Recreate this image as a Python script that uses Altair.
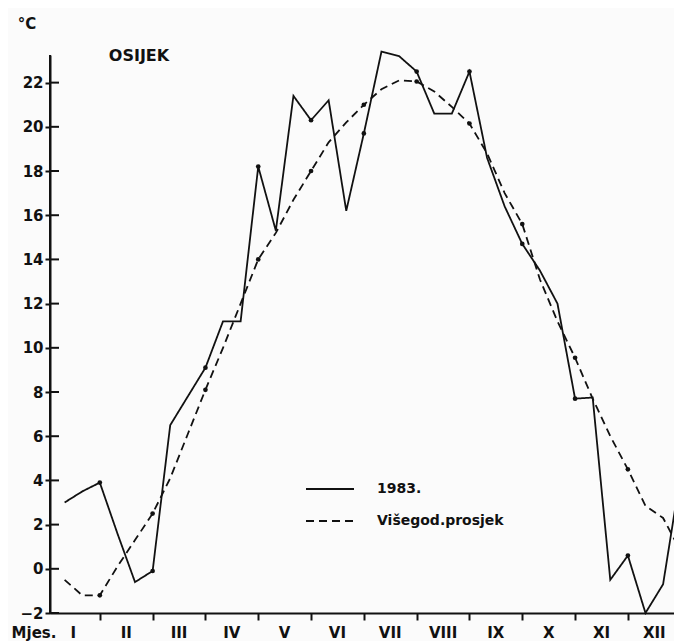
import altair as alt
import pandas as pd

# Dekads (10-day periods) of the year, 3 per month
dekads = list(range(1, 37))
t_1983 = [3.0, 3.5, 3.9, 1.6, -0.6, -0.1, 6.5, 7.8, 9.1, 11.2, 11.2, 18.2,
          15.3, 21.4, 20.3, 21.2, 16.2, 19.7, 23.4, 23.2, 22.5, 20.6, 20.6, 22.5,
          18.6, 16.4, 14.7, 13.5, 12.0, 7.7, 7.75, -0.5, 0.6, -2.0, -0.7, 4.3]
t_avg = [-0.5, -1.2, -1.2, 0.1, 1.3, 2.5, 4.1, 6.1, 8.1, 10.0, 12.0, 14.0,
         15.2, 16.7, 18.0, 19.3, 20.2, 21.0, 21.7, 22.1, 22.05, 21.6, 20.9, 20.15,
         18.8, 17.0, 15.6, 13.1, 11.2, 9.55, 7.7, 6.0, 4.5, 2.85, 2.3, 0.8]
series_names = ["1983.", "Višegod.prosjek"]
months = ["I", "II", "III", "IV", "V", "VI", "VII", "VIII", "IX", "X", "XI", "XII"]
month_centers = [1.5 + 3 * i for i in range(12)]
month_bounds = [3 * i for i in range(1, 12)]
y_ticks = [-2, 0, 2, 4, 6, 8, 10, 12, 14, 16, 18, 20, 22]

rows = []
for k, a, b in zip(dekads, t_1983, t_avg):
    rows.append({"k": k, "t": a, "s": series_names[0]})
    rows.append({"k": k, "t": b, "s": series_names[1]})
df = pd.DataFrame(rows)
df_months = pd.DataFrame({"kc": month_centers, "m": months})
df_ticks = pd.DataFrame({"v": y_ticks})

W, H = 624, 558
FONT = "DejaVu Sans"
INK = "#111111"

xs = alt.Scale(domain=[0.17, 35.62], nice=False, zero=False)
ys = alt.Scale(domain=[-2, 23.25], nice=False, zero=False)
y_axis = alt.Axis(values=y_ticks, title=None, tickSize=5, labelPadding=2, labelFontSize=15,
                  labelFontWeight="bold", domainWidth=2, tickWidth=2)
x_axis = alt.Axis(values=month_bounds, labels=False, title=None, tickSize=7,
                  domainWidth=2, tickWidth=2)

lines = alt.Chart(df).mark_line(strokeWidth=1.8, color=INK).encode(
    x=alt.X("k:Q", scale=xs, axis=x_axis),
    y=alt.Y("t:Q", scale=ys, axis=y_axis),
    strokeDash=alt.StrokeDash("s:N", scale=alt.Scale(domain=series_names, range=[[1, 0], [8, 5]]),
                              legend=alt.Legend(orient="none", legendX=255, legendY=409, title=None,
                                                symbolType="stroke", symbolSize=2304,
                                                symbolStrokeWidth=1.8, symbolStrokeColor=INK,
                                                labelFontSize=14, labelFontWeight="bold",
                                                labelFont=FONT, labelColor=INK, labelOffset=22,
                                                rowPadding=-13, padding=0)),
)

dots = alt.Chart(df).transform_filter("datum.k % 3 == 0").mark_circle(
    size=22, color=INK, opacity=1).encode(
    x=alt.X("k:Q", scale=xs, axis=x_axis), y=alt.Y("t:Q", scale=ys, axis=y_axis))

inner_ticks = alt.Chart(df_ticks).mark_rule(strokeWidth=2, color=INK).encode(
    y=alt.Y("v:Q", scale=ys, axis=y_axis), x=alt.value(0), x2=alt.value(9))

y_line = alt.Chart(alt.Data(values=[{}])).mark_rule(strokeWidth=2, color=INK).encode(
    x=alt.value(0), y=alt.value(0), y2=alt.value(H))

month_text = alt.Chart(df_months).mark_text(
    font=FONT, fontSize=15, fontWeight="bold", color=INK, baseline="middle").encode(
    x=alt.X("kc:Q", scale=xs, axis=x_axis), y=alt.value(H + 20), text="m:N")

notes = alt.Data(values=[{}])
deg = alt.Chart(notes).mark_text(text="°C", font=FONT, fontSize=15, fontWeight="bold",
                                 color=INK, baseline="middle").encode(
    x=alt.value(-23), y=alt.value(-31))
city = alt.Chart(notes).mark_text(text="OSIJEK", font=FONT, fontSize=16, fontWeight="bold",
                                  color=INK, baseline="middle").encode(
    x=alt.value(89), y=alt.value(1))
mjes = alt.Chart(notes).mark_text(text="Mjes.", font=FONT, fontSize=15, fontWeight="bold",
                                  color=INK, baseline="middle").encode(
    x=alt.value(-16), y=alt.value(H + 20))

chart = alt.layer(lines, dots, inner_ticks, y_line, month_text, deg, city, mjes).properties(
    width=W, height=H,
    autosize=alt.AutoSizeParams(type="none"),
    padding={"left": 42, "top": 47, "right": 0, "bottom": 28},
    background="#fbfbfb",
).configure_view(stroke=None).configure_axis(
    domainColor=INK, tickColor=INK, labelColor=INK, labelFont=FONT, grid=False)

chart.save("out.html", embed_options={"renderer": "svg", "actions": False})
